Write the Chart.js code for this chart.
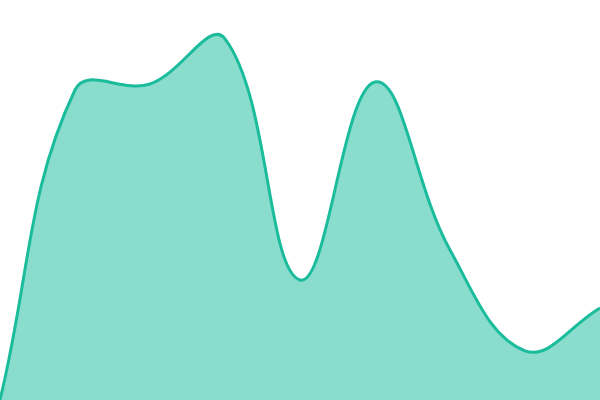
<!DOCTYPE html>
<html>
<head>
<meta charset="utf-8">
<script src="https://cdn.jsdelivr.net/npm/chart.js@4"></script>
<style>
html,body{margin:0;padding:0;background:#fff;}
#wrap{width:600px;height:400px;}
</style>
</head>
<body>
<div id="wrap"><canvas id="c"></canvas></div>
<script>
const labels = ["1","2","3","4","5","6","7","8","9"];
const values = [0, 77.5, 79, 90.3, 30, 79.5, 37.5, 12.3, 23];
const yMin = 0;
const yMax = 100;

new Chart(document.getElementById('c'), {
  type: 'line',
  data: {
    labels: labels,
    datasets: [{
      data: values,
      borderColor: '#1abc9c',
      backgroundColor: 'rgba(26,188,156,0.51)',
      borderWidth: 3,
      fill: true,
      tension: 0.4,
      pointRadius: 0,
      pointHoverRadius: 0
    }]
  },
  options: {
    responsive: true,
    maintainAspectRatio: false,
    animation: false,
    layout: { padding: 0 },
    plugins: { legend: { display: false }, tooltip: { enabled: false } },
    scales: {
      x: { display: false, offset: false },
      y: { display: false, min: yMin, max: yMax }
    }
  }
});
</script>
</body>
</html>
